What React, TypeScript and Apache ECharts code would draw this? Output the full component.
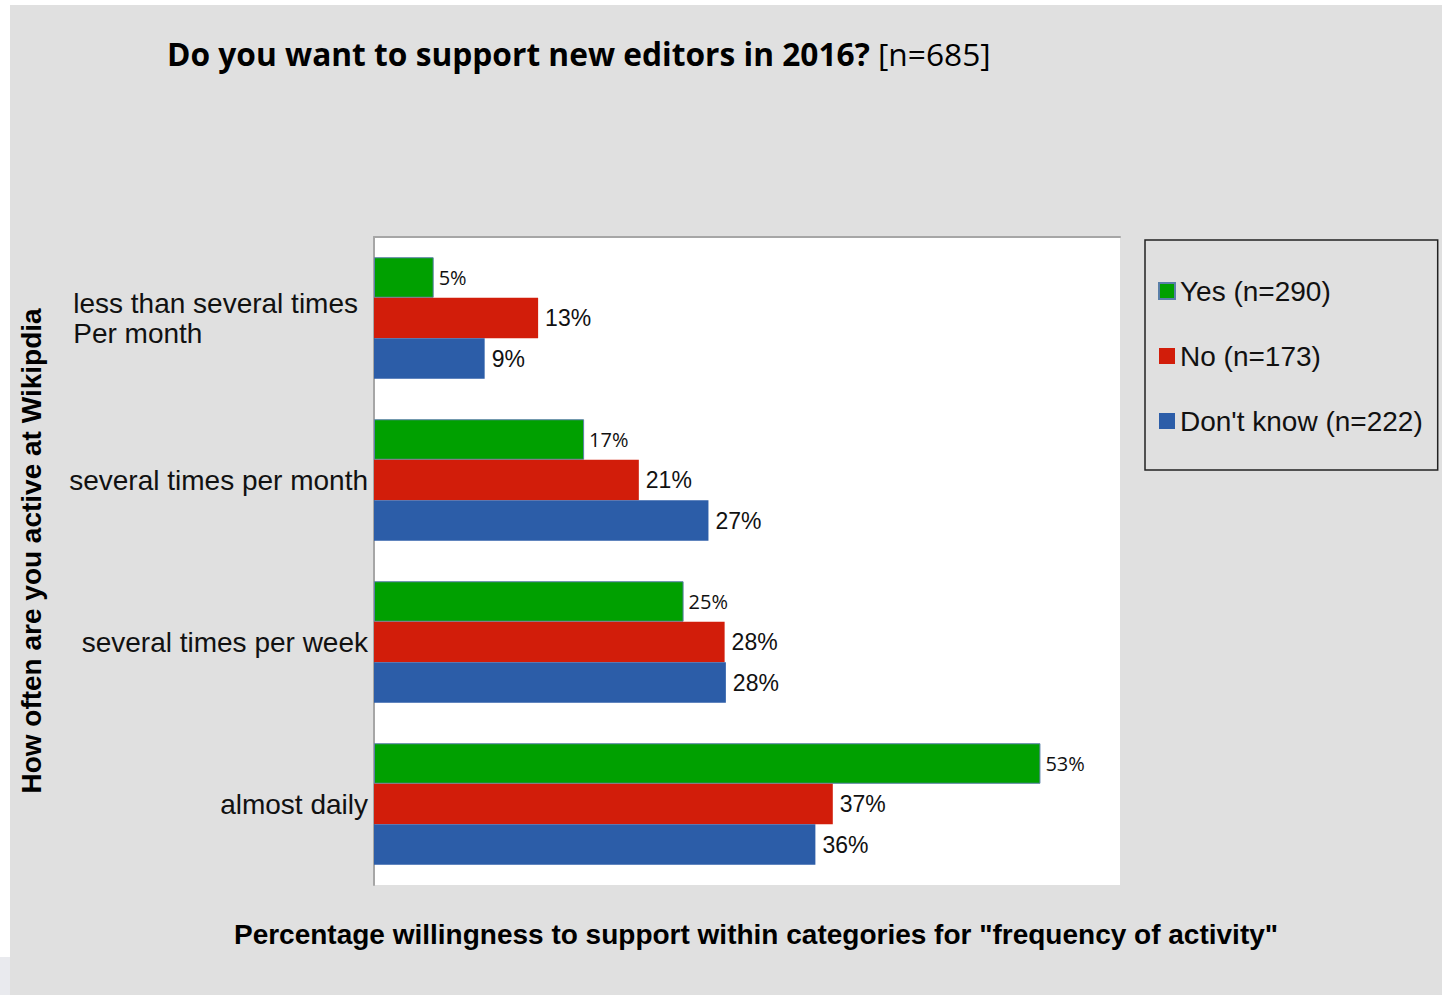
import React, { useEffect, useRef } from "react";
import * as echarts from "echarts";

const categories = [
  "less than several times\nPer month",
  "several times per month",
  "several times per week",
  "almost daily",
];
const seriesNames = ["Yes (n=290)", "No (n=173)", "Don't know (n=222)"];
const yesValues = [4.8, 16.9, 24.9, 53.6];
const noValues = [13.2, 21.3, 28.2, 36.9];
const dontKnowValues = [8.9, 26.9, 28.3, 35.5];
const yesLabels = ["5%", "17%", "25%", "53%"];
const noLabels = ["13%", "21%", "28%", "37%"];
const dontKnowLabels = ["9%", "27%", "28%", "36%"];

const GREEN = "#00a000";
const RED = "#d21d0a";
const BLUE = "#2c5da8";

export default function App() {
  const ref = useRef<HTMLDivElement>(null);
  useEffect(() => {
    if (!ref.current) return;
    const chart = echarts.init(ref.current, undefined, { renderer: "svg" });
    const mkLabel = (labels: string[], font: string, size: number, dist: number) => ({
      show: true,
      position: "right" as const,
      distance: dist,
      fontFamily: font,
      fontSize: size,
      color: "#111",
      formatter: (p: any) => labels[p.dataIndex],
    });
    const catStyle = {
      align: "left",
      fontFamily: "Liberation Sans",
      fontSize: 28,
      lineHeight: 30,
      color: "#111",
    };
    chart.setOption({
      animation: false,
      backgroundColor: "#e0e0e0",
      grid: {
        left: 374,
        top: 237,
        width: 746,
        height: 648,
        show: true,
        backgroundColor: "#ffffff",
        borderWidth: 0,
      },
      xAxis: {
        type: "value",
        min: 0,
        max: 60,
        position: "top",
        axisLine: { show: true, lineStyle: { color: "#a6a6a6", width: 2 } },
        axisTick: { show: false },
        axisLabel: { show: false },
        splitLine: { show: false },
      },
      yAxis: {
        type: "category",
        inverse: true,
        data: categories,
        axisLine: { show: true, lineStyle: { color: "#a6a6a6", width: 2 } },
        axisTick: { show: false },
        axisLabel: {
          margin: 6,
          formatter: (v: string, i: number) => (i === 0 ? `{f|${v}}` : `{l|${v}}`),
          rich: {
            l: catStyle,
            f: { ...catStyle, padding: [0, 10, 0, 0] },
          },
        },
      },
      legend: {
        orient: "vertical",
        left: 1145,
        top: 240,
        padding: [37, 15, 35, 13],
        itemGap: 37,
        itemWidth: 16,
        itemHeight: 16,
        icon: "rect",
        borderColor: "#222",
        borderWidth: 1.5,
        backgroundColor: "transparent",
        data: seriesNames,
        textStyle: {
          fontFamily: "Liberation Sans",
          fontSize: 28,
          lineHeight: 28,
          color: "#111",
        },
      },
      series: [
        {
          name: seriesNames[0],
          type: "bar",
          data: yesValues,
          barGap: "0%",
          barCategoryGap: "25%",
          itemStyle: { color: GREEN, borderColor: "#5a7fa8", borderWidth: 1 },
          label: mkLabel(yesLabels, "Open Sans", 20, 5),
        },
        {
          name: seriesNames[1],
          type: "bar",
          data: noValues,
          barGap: "0%",
          barCategoryGap: "25%",
          itemStyle: { color: RED },
          label: mkLabel(noLabels, "Liberation Sans", 23, 7),
        },
        {
          name: seriesNames[2],
          type: "bar",
          data: dontKnowValues,
          barGap: "0%",
          barCategoryGap: "25%",
          itemStyle: { color: BLUE },
          label: mkLabel(dontKnowLabels, "Liberation Sans", 23, 7),
        },
      ],
      graphic: [
        { type: "rect", shape: { x: 0, y: 0, width: 1442, height: 5 }, style: { fill: "#ffffff" } },
        { type: "rect", shape: { x: 0, y: 0, width: 10, height: 957 }, style: { fill: "#ffffff" } },
        { type: "rect", shape: { x: 0, y: 957, width: 10, height: 38 }, style: { fill: "#e9eaee" } },
        {
          type: "text",
          x: 167,
          y: 53,
          style: {
            text: "{b|Do you want to support new editors in 2016?}{n| [n=685]}",
            textVerticalAlign: "middle",
            rich: {
              b: { fontFamily: "Open Sans", fontWeight: "bold", fontSize: 31.7, fill: "#000", color: "#000" },
              n: { fontFamily: "Open Sans", fontSize: 31.7, fill: "#000", color: "#000" },
            },
          },
        },
        {
          type: "text",
          x: 756,
          y: 934,
          style: {
            text: 'Percentage willingness to support within categories for "frequency of activity"',
            textAlign: "center",
            textVerticalAlign: "middle",
            fontFamily: "Liberation Sans",
            fontWeight: "bold",
            fontSize: 28,
            fill: "#000",
          },
        },
        {
          type: "text",
          x: 31,
          y: 551,
          rotation: Math.PI / 2,
          style: {
            text: "How often are you active at Wikipdia",
            textAlign: "center",
            textVerticalAlign: "middle",
            fontFamily: "Liberation Sans",
            fontWeight: "bold",
            fontSize: 28,
            fill: "#000",
          },
        },
      ],
    });
    return () => chart.dispose();
  }, []);
  return (
    <div
      ref={ref}
      style={{ position: "absolute", left: 0, top: 0, width: 1442, height: 995 }}
    />
  );
}
